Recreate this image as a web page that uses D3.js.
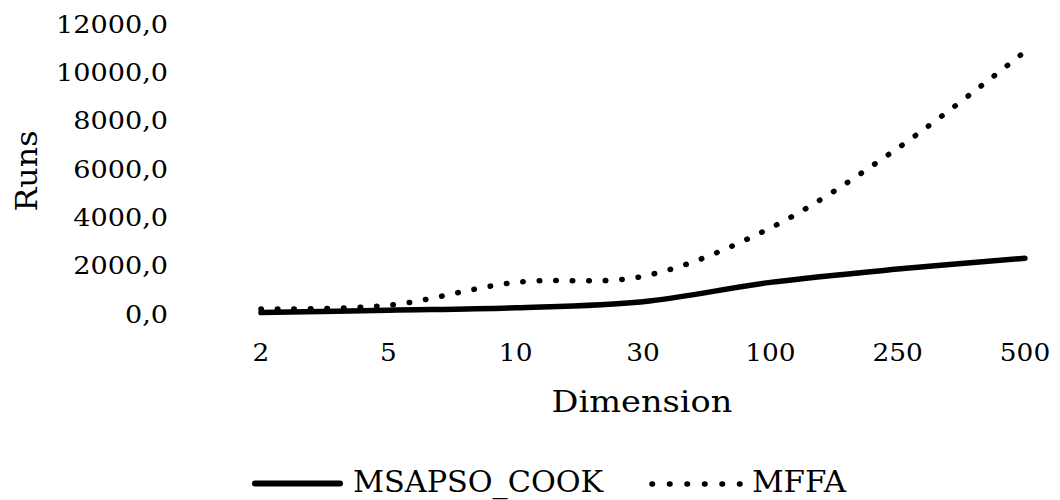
<!DOCTYPE html>
<html>
<head>
<meta charset="utf-8">
<script src="https://cdn.jsdelivr.net/npm/d3@7"></script>
<style>
  html, body { margin: 0; padding: 0; background: #fff; }
  svg text { font-family: "DejaVu Serif", serif; fill: #000; }
</style>
</head>
<body>
<svg id="chart" width="1060" height="500"></svg>
<script>
const categories = ["2", "5", "10", "30", "100", "250", "500"];
const msapsoCook = [100, 200, 300, 550, 1350, 1900, 2350];
const mffa = [250, 400, 1350, 1600, 3600, 6900, 10900];
const yTicks = [0, 2000, 4000, 6000, 8000, 10000, 12000];
const seriesNames = ["MSAPSO_COOK", "MFFA"];

const svg = d3.select("#chart");
const xScale = d3.scalePoint().domain(categories).range([261, 1025]);
const yScale = d3.scaleLinear().domain([0, 12000]).range([315, 25]);

// text whose visual (cap/digit) centre sits at y, stretched horizontally by sx
function stretchedText(g, x, y, str, anchor, size, sx) {
  const t = g.append("g").attr("transform", `translate(${x},${y + 0.36 * size}) scale(${sx},1)`);
  t.append("text").attr("text-anchor", anchor)
    .attr("font-family", "DejaVu Serif")
    .style("font-size", size + "px").text(str);
  return t;
}

// Y axis labels
const fmt = v => d3.format(".1f")(v).replace(".", ",");
const yG = svg.append("g");
yTicks.forEach(v => stretchedText(yG, 168, yScale(v) - 1, fmt(v), "end", 24, 1.13));

// X axis labels
const xG = svg.append("g");
categories.forEach(c => stretchedText(xG, xScale(c), 352, c, "middle", 24, 1.1));

// Axis titles
svg.append("g").attr("transform", `translate(${26 + 0.36 * 30},171) rotate(-90) scale(1.06,1)`)
  .append("text").attr("text-anchor", "middle")
  .attr("font-family", "DejaVu Serif")
  .style("font-size", "30px").text("Runs");
stretchedText(svg, 642, 401, "Dimension", "middle", 30, 1.12);

const line = d3.line()
  .x((d, i) => xScale(categories[i]))
  .y(d => yScale(d))
  .curve(d3.curveCatmullRom.alpha(0.5));

svg.append("path").datum(msapsoCook).attr("d", line)
  .attr("fill", "none").attr("stroke", "#000").attr("stroke-width", 5.5)
  .attr("stroke-linecap", "round");
svg.append("path").datum(mffa).attr("d", line)
  .attr("fill", "none").attr("stroke", "#000").attr("stroke-width", 5.5)
  .attr("stroke-linecap", "round").attr("stroke-dasharray", "0.5 16");

// Legend
const lg = svg.append("g");
lg.append("line").attr("x1", 255).attr("x2", 340).attr("y1", 483.5).attr("y2", 483.5)
  .attr("stroke", "#000").attr("stroke-width", 6).attr("stroke-linecap", "round");
stretchedText(lg, 353, 481, seriesNames[0], "start", 30, 1.01);
lg.append("line").attr("x1", 652).attr("x2", 740).attr("y1", 484).attr("y2", 484)
  .attr("stroke", "#000").attr("stroke-width", 5.5).attr("stroke-linecap", "round")
  .attr("stroke-dasharray", "0.5 17");
stretchedText(lg, 752, 481, seriesNames[1], "start", 30, 1.03);
</script>
</body>
</html>
